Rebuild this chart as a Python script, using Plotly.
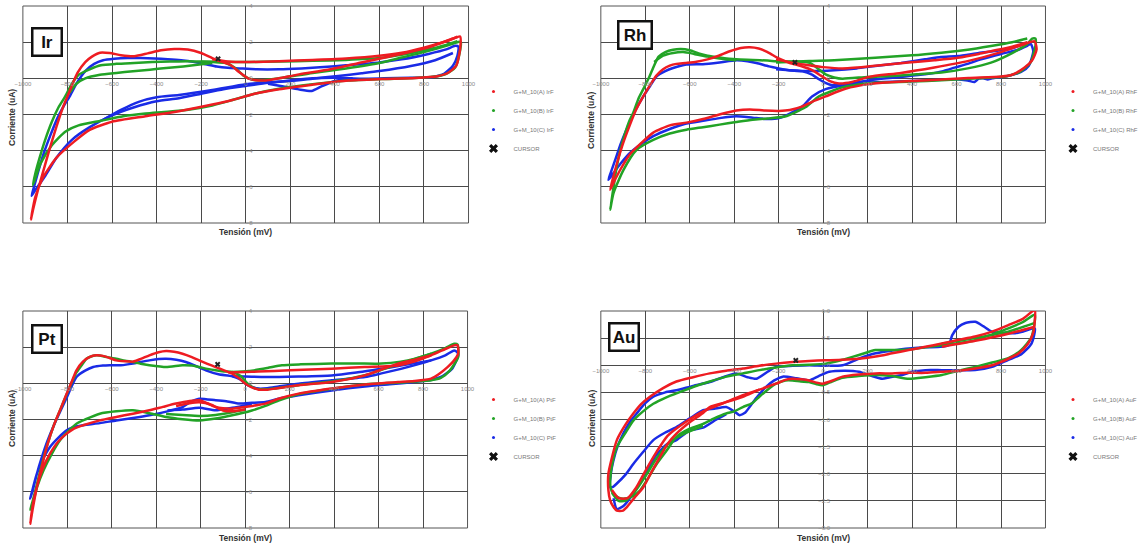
import plotly.graph_objects as go

W, H = 1143, 546
GAP = (None, None)

# ---------------- data: (potential mV, current uA) ----------------
IR_A = [(-964,-7.8),(-955,-7.3),(-935,-6.3),(-910,-5.2),(-880,-3.9),(-850,-2.7),(-820,-1.6),(-800,-1.0),(-780,-0.4),(-755,0.3),(-720,0.9),(-690,1.2),(-654,1.42),(-610,1.4),(-560,1.28),(-500,1.22),(-440,1.38),(-380,1.55),(-320,1.62),(-260,1.6),(-200,1.4),(-150,1.12),(-110,0.92),(-70,0.75),(-30,0.35),(10,0.0),(45,-0.1),(90,-0.12),(150,0.0),(240,0.22),(380,0.5),(530,0.9),(680,1.3),(830,1.75),(930,2.2),(962,2.32),(962,1.6),(945,0.7),(905,0.28),(860,0.12),(760,0.02),(610,-0.04),(460,-0.12),(300,-0.35),(150,-0.6),(40,-0.85),(-60,-1.2),(-150,-1.45),(-300,-1.82),(-450,-2.1),(-600,-2.4),(-700,-2.85),(-770,-3.5),(-850,-4.4),(-910,-5.5),(-945,-6.6),(-964,-7.8),
        GAP,(-150,1.05),(-80,0.93),(0,0.9),(150,0.95),(300,1.02),(450,1.1),(600,1.25),(700,1.42),(800,1.7),(900,2.05),(950,2.3)]
IR_B = [(-955,-5.9),(-945,-5.3),(-925,-4.4),(-900,-3.4),(-870,-2.4),(-840,-1.6),(-810,-1.0),(-780,-0.3),(-750,0.2),(-700,0.5),(-650,0.72),(-580,0.8),(-500,0.85),(-420,0.9),(-340,0.93),(-260,0.94),(-200,0.93),(-140,0.9),(-90,0.85),(-50,0.6),(-10,0.15),(30,-0.08),(80,-0.1),(150,0.0),(300,0.3),(450,0.55),(600,0.85),(700,1.15),(800,1.45),(900,1.8),(950,2.0),(965,2.02),(960,1.4),(940,0.6),(900,0.25),(850,0.1),(760,0.02),(610,-0.04),(460,-0.12),(300,-0.33),(150,-0.58),(40,-0.85),(-60,-1.2),(-150,-1.5),(-250,-1.72),(-350,-1.85),(-450,-1.95),(-550,-2.1),(-650,-2.35),(-750,-2.6),(-810,-2.95),(-870,-3.7),(-920,-4.7),(-955,-5.9),
        GAP,(-200,0.92),(-100,0.9),(0,0.9),(150,0.93),(300,0.97),(450,1.02),(600,1.12),(700,1.3),(800,1.55),(900,1.85),(950,2.05),
        GAP,(-790,-0.8),(-760,-0.3),(-720,0.0),(-654,0.2),(-580,0.3),(-506,0.39),(-430,0.48),(-357,0.57),(-280,0.66),(-208,0.76),(-150,0.85)]
IR_C = [(-961,-6.5),(-950,-6.0),(-930,-5.1),(-905,-4.1),(-875,-3.1),(-845,-2.2),(-815,-1.5),(-790,-1.0),(-760,-0.3),(-720,0.4),(-680,0.8),(-640,1.0),(-590,1.08),(-530,1.12),(-470,1.12),(-410,1.1),(-350,1.06),(-290,1.0),(-230,0.9),(-180,0.78),(-130,0.65),(-80,0.58),(-30,0.55),(50,0.5),(150,0.5),(250,0.55),(350,0.62),(450,0.72),(600,0.88),(700,1.05),(820,1.35),(900,1.6),(940,1.8),(955,1.75),(950,1.25),(930,0.7),(890,0.25),(840,0.08),(740,0.03),(620,0.0),(520,-0.02),(400,0.03),(300,0.0),(200,-0.12),(100,-0.25),(0,-0.42),(-100,-0.6),(-200,-0.85),(-300,-1.1),(-400,-1.27),(-500,-1.6),(-600,-2.05),(-700,-2.7),(-780,-3.4),(-850,-4.4),(-900,-5.4),(-940,-6.1),(-961,-6.5),
        GAP,(-640,-2.3),(-560,-1.75),(-480,-1.3),(-400,-1.05),(-300,-0.92),(-150,-0.65),(0,-0.33),(100,-0.22),(200,-0.15),(300,-0.02),(415,0.13),(520,0.28),(600,0.4),(741,0.68),(850,1.0),(930,1.4),
        GAP,(100,-0.3),(170,-0.45),(237,-0.61),(296,-0.7),(340,-0.45),(400,-0.15),(480,0.0)]

RH_A = [(-958,-6.16),(-945,-5.5),(-925,-4.6),(-900,-3.6),(-870,-2.6),(-840,-1.7),(-809,-1.0),(-780,-0.4),(-750,0.15),(-720,0.5),(-690,0.7),(-660,0.8),(-620,0.85),(-570,0.92),(-520,1.05),(-470,1.25),(-420,1.5),(-370,1.68),(-330,1.72),(-290,1.65),(-250,1.45),(-200,1.1),(-150,0.85),(-100,0.68),(-50,0.45),(-10,0.15),(30,-0.15),(71,-0.28),(130,-0.2),(205,0.08),(350,0.3),(500,0.6),(650,0.95),(800,1.45),(906,1.9),(951,2.05),(960,1.6),(940,1.0),(906,0.6),(850,0.2),(802,0.1),(653,0.02),(450,-0.12),(300,-0.22),(205,-0.32),(100,-0.58),(11,-1.0),(-50,-1.3),(-93,-1.55),(-150,-1.75),(-198,-1.8),(-260,-1.78),(-330,-1.72),(-391,-1.78),(-466,-2.0),(-540,-2.25),(-615,-2.45),(-690,-2.6),(-764,-3.0),(-820,-3.6),(-869,-4.2),(-910,-5.0),(-940,-5.7),(-958,-6.16),
        GAP,(-212,1.05),(-120,0.82),(-63,0.72),(0,0.62),(86,0.55),(200,0.65),(383,0.87),(500,1.0),(606,1.14),(700,1.35),(755,1.5),(850,1.75),(918,2.0)]
RH_B = [(-958,-7.27),(-945,-6.2),(-930,-5.0),(-913,-4.0),(-890,-3.0),(-870,-2.3),(-854,-1.9),(-830,-1.1),(-809,-0.6),(-785,0.0),(-764,0.6),(-740,1.2),(-710,1.45),(-675,1.58),(-640,1.62),(-600,1.55),(-560,1.38),(-520,1.25),(-466,1.15),(-391,1.05),(-317,1.02),(-250,0.98),(-198,0.94),(-150,0.93),(-108,0.93),(-60,0.85),(-20,0.5),(11,0.22),(50,0.05),(86,-0.02),(200,0.08),(309,0.13),(420,0.22),(532,0.32),(650,0.55),(755,0.87),(850,1.4),(918,1.9),(940,2.2),(955,2.2),(955,1.8),(934,0.9),(890,0.4),(830,0.13),(700,0.0),(532,-0.11),(400,-0.18),(234,-0.24),(150,-0.35),(86,-0.5),(40,-0.7),(-19,-1.0),(-80,-1.6),(-168,-2.1),(-250,-2.22),(-317,-2.29),(-391,-2.42),(-466,-2.56),(-540,-2.7),(-615,-2.84),(-690,-3.05),(-764,-3.4),(-839,-3.95),(-898,-5.06),(-943,-6.35),(-958,-7.27),
        GAP,(-212,0.87),(-108,0.93),(-63,0.96),(50,1.0),(234,1.14),(400,1.27),(532,1.42),(650,1.58),(755,1.79),(850,2.0),(918,2.2),
        GAP,(-760,0.9),(-720,1.25),(-675,1.4),(-630,1.45),(-580,1.35),(-520,1.2),(-466,1.1),(-391,1.0)]
RH_C = [(-966,-5.61),(-955,-5.2),(-935,-4.5),(-910,-3.6),(-880,-2.7),(-850,-1.9),(-809,-1.0),(-780,-0.45),(-749,0.11),(-710,0.4),(-675,0.57),(-615,0.76),(-541,0.78),(-466,0.88),(-391,1.0),(-340,0.95),(-300,0.85),(-243,0.66),(-200,0.55),(-168,0.48),(-130,0.42),(-93,0.39),(-50,0.2),(-19,-0.05),(10,-0.25),(41,-0.38),(80,-0.35),(130,-0.26),(234,-0.06),(350,0.08),(458,0.22),(540,0.4),(591,0.59),(650,0.8),(710,1.05),(800,1.35),(870,1.55),(918,1.8),(934,1.9),(945,1.5),(925,0.7),(890,0.35),(830,0.13),(760,0.0),(740,-0.06),(720,0.0),(700,-0.02),(681,-0.2),(650,-0.12),(600,-0.05),(458,-0.12),(234,-0.22),(100,-0.38),(11,-0.6),(-50,-1.0),(-93,-1.55),(-150,-1.95),(-198,-2.2),(-250,-2.25),(-317,-2.18),(-391,-2.1),(-466,-2.2),(-540,-2.35),(-615,-2.5),(-690,-2.8),(-764,-3.2),(-820,-3.65),(-869,-4.13),(-910,-4.7),(-943,-5.24),(-966,-5.61),
        GAP,(-212,0.5),(-150,0.45),(-63,0.4),(50,0.45),(150,0.55),(234,0.68),(350,0.85),(458,1.05),(530,1.18),(606,1.23),(700,1.4),(830,1.6),(918,1.97)]

PT_A = [(-967,-7.76),(-955,-6.9),(-937,-5.73),(-915,-4.6),(-890,-3.4),(-860,-2.3),(-830,-1.4),(-803,-0.57),(-780,0.1),(-759,0.72),(-730,1.2),(-699,1.46),(-670,1.55),(-640,1.52),(-610,1.4),(-580,1.27),(-540,1.22),(-505,1.2),(-470,1.35),(-431,1.55),(-390,1.72),(-356,1.79),(-320,1.75),(-282,1.64),(-240,1.45),(-207,1.27),(-170,1.08),(-133,0.9),(-95,0.72),(-58,0.53),(-25,0.25),(1,-0.02),(30,-0.22),(61,-0.35),(100,-0.35),(136,-0.29),(240,-0.11),(389,0.07),(460,0.22),(538,0.44),(610,0.75),(687,1.09),(760,1.3),(836,1.55),(900,1.9),(940,2.1),(955,2.1),(958,1.64),(935,1.2),(910,0.9),(870,0.5),(836,0.26),(760,0.13),(687,0.07),(538,-0.06),(389,-0.29),(240,-0.57),(150,-0.85),(91,-1.12),(30,-1.25),(-28,-1.35),(-58,-1.4),(-100,-1.38),(-133,-1.31),(-170,-1.1),(-207,-0.94),(-250,-0.98),(-311,-1.12),(-370,-1.3),(-431,-1.49),(-505,-1.68),(-580,-1.86),(-654,-2.05),(-729,-2.32),(-770,-2.5),(-803,-2.78),(-840,-3.2),(-878,-3.89),(-910,-4.7),(-937,-5.73),(-955,-6.7),(-967,-7.76),
        GAP,(-76,0.6),(0,0.62),(58,0.65),(200,0.72),(326,0.78),(389,0.81),(538,0.9),(687,0.99),(760,1.2),(836,1.55),
        GAP,(-311,-1.25),(-250,-1.1),(-207,-1.05),(-150,-1.2),(-100,-1.5),(-58,-1.55),(0,-1.45)]
PT_B = [(-967,-7.0),(-955,-6.47),(-937,-5.6),(-915,-4.5),(-890,-3.4),(-860,-2.3),(-830,-1.4),(-803,-0.6),(-780,0.05),(-759,0.6),(-730,1.1),(-714,1.36),(-690,1.5),(-669,1.55),(-620,1.45),(-580,1.36),(-540,1.25),(-505,1.18),(-470,1.08),(-431,1.0),(-356,0.9),(-282,1.0),(-240,0.98),(-207,0.9),(-170,0.8),(-133,0.72),(-95,0.66),(-58,0.63),(-20,0.4),(10,0.0),(46,-0.29),(100,-0.33),(136,-0.28),(240,-0.1),(389,0.1),(538,0.45),(687,1.05),(836,1.64),(900,1.95),(940,2.19),(955,2.15),(958,1.46),(920,0.7),(880,0.3),(836,0.17),(700,0.05),(538,-0.06),(389,-0.3),(240,-0.6),(150,-0.95),(91,-1.25),(30,-1.5),(-58,-1.77),(-133,-1.95),(-207,-2.05),(-282,-1.98),(-356,-1.86),(-431,-1.65),(-505,-1.49),(-580,-1.55),(-654,-1.68),(-720,-2.0),(-759,-2.23),(-800,-2.7),(-833,-3.15),(-870,-3.9),(-907,-4.81),(-935,-5.7),(-952,-6.47),(-967,-7.0),
        GAP,(-58,0.63),(16,0.68),(100,0.85),(165,1.0),(250,1.05),(389,1.09),(500,1.1),(613,1.09),(700,1.2),(760,1.35),(836,1.64),
        GAP,(-356,-1.7),(-282,-1.75),(-207,-1.8),(-133,-1.75),(-58,-1.6),(0,-1.45)]
PT_C = [(-967,-6.38),(-955,-5.9),(-937,-5.0),(-915,-4.1),(-890,-3.2),(-860,-2.3),(-830,-1.5),(-803,-0.8),(-780,-0.15),(-759,0.35),(-720,0.7),(-684,0.9),(-640,0.98),(-610,1.0),(-560,1.0),(-505,1.09),(-470,1.18),(-431,1.27),(-390,1.34),(-356,1.36),(-310,1.3),(-267,1.18),(-220,0.95),(-177,0.72),(-120,0.5),(-58,0.39),(-20,0.2),(1,-0.02),(30,-0.2),(61,-0.29),(100,-0.27),(150,-0.18),(240,-0.02),(389,0.17),(538,0.35),(613,0.55),(700,0.8),(836,1.27),(900,1.55),(940,1.82),(955,1.7),(958,1.55),(930,0.8),(880,0.35),(820,0.15),(761,0.07),(650,-0.05),(538,-0.17),(389,-0.39),(240,-0.66),(150,-0.85),(91,-1.03),(30,-1.08),(-28,-1.12),(-80,-1.0),(-133,-0.94),(-207,-0.85),(-250,-1.05),(-282,-1.31),(-350,-1.55),(-431,-1.77),(-505,-1.92),(-580,-2.05),(-654,-2.2),(-729,-2.32),(-780,-2.45),(-803,-2.6),(-840,-3.0),(-878,-3.52),(-910,-4.2),(-937,-5.0),(-955,-5.8),(-967,-6.38),
        GAP,(-58,0.39),(0,0.38),(91,0.35),(240,0.38),(389,0.44),(500,0.6),(613,0.81),(700,0.98),(836,1.27),
        GAP,(-350,-1.5),(-282,-1.45),(-207,-1.35),(-133,-1.49),(-58,-1.35),(30,-1.15)]

AU_A = [(952,1.02),(900,0.86),(833,0.74),(760,0.62),(684,0.53),(600,0.46),(534,0.4),(460,0.34),(385,0.28),(310,0.22),(236,0.16),(160,0.12),(87,0.1),(12,0.09),(-63,0.08),(-137,0.06),(-212,0.03),(-287,-0.01),(-361,-0.06),(-436,-0.1),(-510,-0.15),(-585,-0.22),(-660,-0.3),(-720,-0.42),(-779,-0.58),(-820,-0.72),(-854,-0.89),(-890,-1.1),(-928,-1.38),(-950,-1.7),(-966,-2.0),(-966,-2.3),(-958,-2.49),(-945,-2.6),(-928,-2.68),(-900,-2.68),(-884,-2.62),(-850,-2.45),(-809,-2.25),(-770,-1.95),(-734,-1.69),(-700,-1.45),(-660,-1.26),(-600,-1.05),(-540,-0.88),(-510,-0.77),(-436,-0.68),(-361,-0.58),(-287,-0.45),(-212,-0.34),(-170,-0.27),(-137,-0.25),(-100,-0.26),(-63,-0.28),(-30,-0.32),(-3,-0.34),(30,-0.3),(87,-0.21),(160,-0.17),(236,-0.15),(310,-0.15),(385,-0.14),(460,-0.14),(534,-0.12),(610,-0.1),(684,-0.06),(760,0.0),(833,0.12),(880,0.22),(922,0.4),(945,0.6),(952,0.83),(952,1.02),
        GAP,(534,0.34),(684,0.45),(833,0.58),(952,0.71),
        GAP,(-950,-2.3),(-920,-2.45),(-880,-2.45),(-840,-2.25),(-800,-1.95),(-750,-1.6),(-700,-1.3),(-620,-1.05),(-540,-0.85),(-450,-0.7),(-361,-0.55),(-287,-0.45)]
AU_B = [(952,0.93),(900,0.8),(833,0.68),(760,0.57),(684,0.46),(600,0.4),(534,0.37),(460,0.33),(385,0.29),(310,0.28),(236,0.28),(161,0.19),(87,0.1),(12,0.03),(-63,0.01),(-137,0.0),(-212,-0.04),(-287,-0.09),(-361,-0.15),(-436,-0.21),(-510,-0.3),(-585,-0.4),(-660,-0.52),(-710,-0.6),(-764,-0.71),(-810,-0.85),(-854,-1.02),(-890,-1.25),(-928,-1.51),(-948,-1.8),(-958,-2.12),(-955,-2.28),(-943,-2.37),(-920,-2.44),(-899,-2.46),(-860,-2.42),(-824,-2.31),(-790,-2.1),(-749,-1.82),(-700,-1.55),(-660,-1.32),(-600,-1.17),(-540,-1.08),(-490,-0.98),(-436,-0.89),(-400,-0.85),(-361,-0.77),(-320,-0.7),(-287,-0.58),(-250,-0.45),(-212,-0.34),(-170,-0.28),(-137,-0.28),(-100,-0.3),(-63,-0.31),(-30,-0.35),(-3,-0.37),(40,-0.3),(87,-0.23),(160,-0.2),(236,-0.18),(310,-0.2),(385,-0.25),(460,-0.22),(534,-0.18),(610,-0.1),(684,-0.03),(760,0.05),(833,0.13),(890,0.28),(937,0.52),(952,0.93),
        GAP,(534,0.4),(684,0.5),(833,0.62),(952,0.78),
        GAP,(-950,-2.35),(-920,-2.5),(-890,-2.5),(-850,-2.35),(-800,-2.05),(-750,-1.72),(-690,-1.42),(-620,-1.25),(-540,-1.12)]
AU_C = [(952,0.68),(900,0.62),(863,0.59),(800,0.6),(758,0.62),(720,0.72),(684,0.8),(640,0.78),(609,0.71),(580,0.55),(564,0.37),(460,0.33),(385,0.31),(310,0.27),(236,0.22),(160,0.12),(87,0.0),(12,-0.01),(-63,0.0),(-137,-0.01),(-212,-0.03),(-250,-0.12),(-301,-0.25),(-340,-0.22),(-391,-0.15),(-450,-0.22),(-510,-0.31),(-585,-0.38),(-660,-0.46),(-710,-0.5),(-764,-0.58),(-800,-0.7),(-839,-0.89),(-870,-1.05),(-899,-1.26),(-925,-1.5),(-943,-1.75),(-955,-2.0),(-958,-2.25),(-945,-2.24),(-928,-2.18),(-890,-2.02),(-854,-1.82),(-810,-1.6),(-764,-1.38),(-710,-1.24),(-660,-1.14),(-600,-0.98),(-540,-0.83),(-490,-0.8),(-436,-0.77),(-400,-0.85),(-376,-0.92),(-350,-0.87),(-331,-0.77),(-300,-0.6),(-257,-0.4),(-220,-0.28),(-182,-0.21),(-120,-0.24),(-63,-0.28),(-20,-0.2),(27,-0.12),(100,-0.1),(161,-0.12),(220,-0.2),(266,-0.25),(300,-0.22),(355,-0.18),(400,-0.12),(460,-0.09),(534,-0.09),(610,-0.09),(684,-0.09),(760,-0.03),(833,0.1),(890,0.2),(937,0.4),(952,0.68),
        GAP,(-943,-2.45),(-928,-2.65),(-900,-2.6),(-860,-2.4),(-809,-2.06),(-750,-1.65),(-700,-1.45),(-660,-1.38),(-600,-1.2),(-540,-1.15),(-480,-1.0),(-436,-0.9)]

PANELS = ["Ir", "Rh", "Pt", "Au"]
SERIES = {"Ir": [IR_A, IR_B, IR_C], "Rh": [RH_A, RH_B, RH_C],
          "Pt": [PT_A, PT_B, PT_C], "Au": [AU_A, AU_B, AU_C]}
SERIES_NAMES = ["G+M_10(A) {}F", "G+M_10(B) {}F", "G+M_10(C) {}F"]
CURSOR_V = [-124, -127, -124, -123]
CURSOR_I = [1.08, 0.88, 1.05, 0.09]
Y_RANGE = {"Ir": (-8, 4), "Rh": (-8, 4), "Pt": (-8, 4), "Au": (-3, 1)}
Y_DTICK = {"Ir": 2, "Rh": 2, "Pt": 2, "Au": 0.5}
X_RANGE = (-1000, 1000)

# ---------------- styling / layout ----------------
COLORS = ["#ee1c22", "#22a326", "#1a2be6"]
DRAW_ORDER = [2, 1, 0]
FONT = "Liberation Sans"
# plot boxes in pixels: left, right, top, bottom
BOX = {"Ir": (23, 471, 6, 223), "Rh": (604, 1051, 6, 223),
       "Pt": (23, 470, 311, 528), "Au": (604, 1051, 311, 528)}
LEG_POS = {"Ir": (476, 120), "Rh": (1059, 120), "Pt": (476, 428), "Au": (1059, 428)}
TAG_POS = {"Ir": (47.5, 42.5, 25), "Rh": (638, 35, 29), "Pt": (47.5, 338.5, 25), "Au": (627.5, 337, 25)}
XTITLE_Y = {"Ir": 232, "Rh": 232, "Pt": 538, "Au": 538}
YTITLE_X = {"Ir": 12, "Rh": 594, "Pt": 12, "Au": 595}
YTITLE_Y = {"Ir": 117, "Rh": 120, "Pt": 418, "Au": 418}


def unzip(pts):
    return [p[0] for p in pts], [p[1] for p in pts]


fig = go.Figure()
layout = dict(
    width=W, height=H, margin=dict(l=0, r=0, t=0, b=0),
    paper_bgcolor="white", plot_bgcolor="white",
    font=dict(family=FONT, color="#333"),
    template="none", hovermode=False,
)
annotations, shapes = [], []

for i, p in enumerate(PANELS):
    sfx = "" if i == 0 else str(i + 1)
    xa, ya = "x" + sfx, "y" + sfx
    leg = "legend" + sfx
    l, r, t, b = BOX[p]
    ymin, ymax = Y_RANGE[p]
    xdom = [l / W, r / W]
    ydom = [1 - b / H, 1 - t / H]
    ypos0 = ydom[0] + (0 - ymin) / (ymax - ymin) * (ydom[1] - ydom[0])
    xpos0 = xdom[0] + (0 - X_RANGE[0]) / (X_RANGE[1] - X_RANGE[0]) * (xdom[1] - xdom[0])

    layout["xaxis" + sfx] = dict(
        domain=xdom, range=list(X_RANGE), dtick=200, tick0=0,
        anchor="free", position=ypos0, showgrid=True, gridcolor="#4a4a4a",
        gridwidth=1, zeroline=False, showline=False, ticks="",
        tickfont=dict(size=6, color="#8a8a8a"), ticklabelstandoff=1,
        fixedrange=True, automargin=False)
    layout["yaxis" + sfx] = dict(
        domain=ydom, range=[ymin, ymax], dtick=Y_DTICK[p], tick0=0,
        anchor="free", position=xpos0, showgrid=True, gridcolor="#4a4a4a",
        gridwidth=1, zeroline=False, showline=False, ticks="",
        tickformat=".1f" if p == "Au" else "d",
        tickfont=dict(size=6, color="#8a8a8a"), ticklabelstandoff=-7,
        fixedrange=True, automargin=False)

    # legend proxies
    for k in range(3):
        fig.add_trace(go.Scatter(
            x=[None], y=[None], mode="markers", name=SERIES_NAMES[k].format(p),
            marker=dict(color=COLORS[k], size=3), legend=leg, xaxis=xa, yaxis=ya))
    fig.add_trace(go.Scatter(
        x=[None], y=[None], mode="markers", name="CURSOR",
        marker=dict(color="#111", size=8, symbol="x"), legend=leg, xaxis=xa, yaxis=ya))

    # curves
    for k in DRAW_ORDER:
        v, c = unzip(SERIES[p][k])
        fig.add_trace(go.Scatter(
            x=v, y=c, mode="lines", showlegend=False, connectgaps=False,
            line=dict(color=COLORS[k], width=2.5, shape="spline", smoothing=0.6),
            xaxis=xa, yaxis=ya))
    # cursor
    fig.add_trace(go.Scatter(
        x=[CURSOR_V[i]], y=[CURSOR_I[i]], mode="markers", showlegend=False,
        marker=dict(color="#222", size=5, symbol="x"), xaxis=xa, yaxis=ya))

    lx, ly = LEG_POS[p]
    layout[leg] = dict(x=lx / W, y=1 - ly / H, xanchor="left", yanchor="middle",
                       bgcolor="rgba(0,0,0,0)", borderwidth=0,
                       font=dict(size=6, color="#777", family=FONT),
                       itemclick=False, itemdoubleclick=False)

    shapes.append(dict(type="rect", xref=xa + " domain", yref=ya + " domain",
                       x0=0, x1=1, y0=0, y1=1, line=dict(color="#555", width=1),
                       layer="below"))

    tx, ty, tw = TAG_POS[p]
    annotations.append(dict(
        text="<b>%s</b>" % p, x=tx / W, y=1 - ty / H, xref="paper", yref="paper",
        showarrow=False, xanchor="center", yanchor="middle",
        font=dict(size=17, color="#111", family=FONT),
        bordercolor="#111", borderwidth=2.5, borderpad=1, bgcolor="white",
        width=tw, height=23))
    annotations.append(dict(
        text="<b>Tensión (mV)</b>", x=(l + r) / 2 / W, y=1 - XTITLE_Y[p] / H,
        xref="paper", yref="paper", showarrow=False, xanchor="center", yanchor="middle",
        font=dict(size=8.5, color="#333", family=FONT)))
    annotations.append(dict(
        text="<b>Corriente (uA)</b>", x=YTITLE_X[p] / W, y=1 - YTITLE_Y[p] / H,
        xref="paper", yref="paper", showarrow=False, xanchor="center", yanchor="middle",
        textangle=-90, font=dict(size=8.5, color="#333", family=FONT)))

layout["annotations"] = annotations
layout["shapes"] = shapes
fig.update_layout(**layout)
fig.write_html("out.html", config={"displayModeBar": False})
